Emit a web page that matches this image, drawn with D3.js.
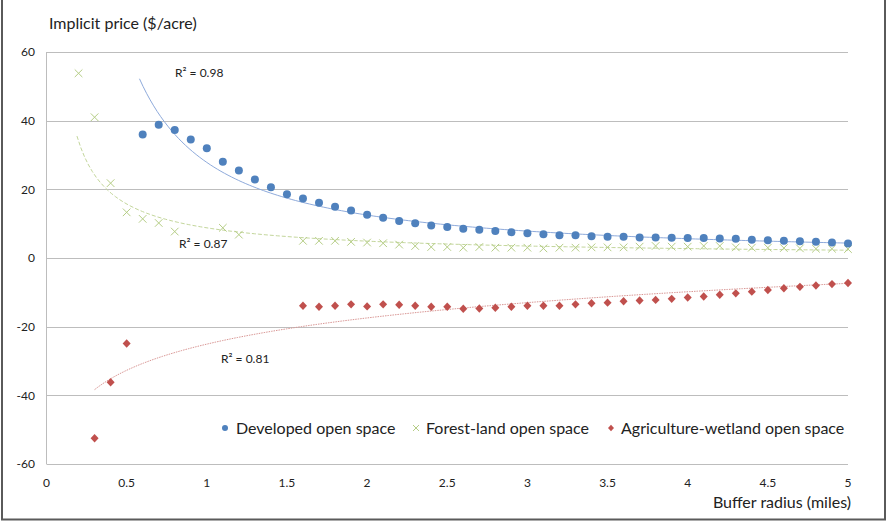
<!DOCTYPE html>
<html>
<head>
<meta charset="utf-8">
<script src="https://cdn.jsdelivr.net/npm/d3@7"></script>
<style>
  body { margin: 0; background: #fff; }
  svg text { font-family: Lato, "Open Sans", sans-serif; fill: #222; }
</style>
</head>
<body>
<div id="chart"></div>
<script>
// values
var devX = [0.6,0.7,0.8,0.9,1.0,1.1,1.2,1.3,1.4,1.5,1.6,1.7,1.8,1.9,2.0,2.1,2.2,2.3,2.4,2.5,2.6,2.7,2.8,2.9,3.0,3.1,3.2,3.3,3.4,3.5,3.6,3.7,3.8,3.9,4.0,4.1,4.2,4.3,4.4,4.5,4.6,4.7,4.8,4.9,5.0];
var devY = [36.0,38.8,37.3,34.5,32.0,28.0,25.5,22.9,20.6,18.6,17.3,16.1,14.9,13.8,12.6,11.7,10.8,10.1,9.5,9.0,8.5,8.2,7.9,7.5,7.2,6.9,6.6,6.6,6.3,6.2,6.2,6.0,6.0,5.9,5.8,5.8,5.7,5.6,5.3,5.2,5.0,4.9,4.7,4.5,4.2];

var forX = [0.2,0.3,0.4,0.5,0.6,0.7,0.8,1.1,1.2,1.6,1.7,1.8,1.9,2.0,2.1,2.2,2.3,2.4,2.5,2.6,2.7,2.8,2.9,3.0,3.1,3.2,3.3,3.4,3.5,3.6,3.7,3.8,3.9,4.0,4.1,4.2,4.3,4.4,4.5,4.6,4.7,4.8,4.9,5.0];
var forY = [53.8,41.0,21.8,13.3,11.4,10.2,7.7,8.8,6.8,5.0,5.0,5.0,4.7,4.5,4.3,3.9,3.5,3.2,3.2,3.0,3.2,3.0,3.0,3.0,2.8,3.0,3.0,3.1,3.1,3.1,3.3,3.5,3.3,3.3,3.5,3.5,3.1,3.0,3.0,2.9,2.8,2.7,2.7,2.6];

var agrX = [0.3,0.4,0.5,1.6,1.7,1.8,1.9,2.0,2.1,2.2,2.3,2.4,2.5,2.6,2.7,2.8,2.9,3.0,3.1,3.2,3.3,3.4,3.5,3.6,3.7,3.8,3.9,4.0,4.1,4.2,4.3,4.4,4.5,4.6,4.7,4.8,4.9,5.0];
var agrY = [-52.5,-36.2,-24.9,-13.9,-14.2,-13.9,-13.5,-14.1,-13.5,-13.6,-13.9,-14.2,-14.2,-14.8,-14.7,-14.5,-14.2,-13.9,-13.9,-13.9,-13.5,-13.2,-13.0,-12.6,-12.4,-12.2,-11.9,-11.5,-11.2,-10.7,-10.3,-9.8,-9.3,-8.8,-8.4,-8.0,-7.6,-7.3];

var xTicks = [0,0.5,1,1.5,2,2.5,3,3.5,4,4.5,5];
var yTicks = [-60,-40,-20,0,20,40,60];
var seriesNames = ["Developed open space","Forest-land open space","Agriculture-wetland open space"];
var r2Labels = ["R\u00b2 = 0.98","R\u00b2 = 0.87","R\u00b2 = 0.81"];

var width = 887, height = 522;
var blue = "#4f81bd", green = "#b5cd85", red = "#c0504d";

var svg = d3.select("#chart").append("svg")
    .attr("width", width)
    .attr("height", height);

var x = d3.scaleLinear().domain([0, 5]).range([46.5, 848]);
var y = d3.scaleLinear().domain([-60, 60]).range([464, 52]);

// gridlines
svg.append("g")
  .selectAll("line")
  .data(yTicks)
  .join("line")
    .attr("x1", x(0)).attr("x2", x(5))
    .attr("y1", d => Math.round(y(d)) + 0.5)
    .attr("y2", d => Math.round(y(d)) + 0.5)
    .attr("stroke", "#bdbdbd");

svg.append("line")
    .attr("x1", x(0)).attr("x2", x(0))
    .attr("y1", y(60)).attr("y2", y(-60))
    .attr("stroke", "#bdbdbd");

// tick labels
svg.append("g")
  .selectAll("text")
  .data(yTicks)
  .join("text")
    .attr("x", 35)
    .attr("y", d => y(d))
    .attr("dy", "0.35em")
    .attr("text-anchor", "end")
    .style("font-size", "12px")
    .text(d => d);

svg.append("g")
  .selectAll("text")
  .data(xTicks)
  .join("text")
    .attr("x", d => x(d))
    .attr("y", 487)
    .attr("text-anchor", "middle")
    .style("font-size", "12px")
    .text(d => d);

svg.append("text")
    .attr("x", 49).attr("y", 29)
    .style("font-size", "16px")
    .text("Implicit price ($/acre)");

svg.append("text")
    .attr("x", 851).attr("y", 508)
    .attr("text-anchor", "end")
    .style("font-size", "16px")
    .text("Buffer radius (miles)");

// trendlines fitted to the points
function fitPower(xs, ys) {
  var lx = xs.map(Math.log), ly = ys.map(Math.log);
  var mx = d3.mean(lx), my = d3.mean(ly);
  var b = d3.sum(lx, (v, i) => (v - mx) * (ly[i] - my)) / d3.sum(lx, v => (v - mx) * (v - mx));
  var a = Math.exp(my - b * mx);
  return v => a * Math.pow(v, b);
}
function fitLog(xs, ys) {
  var lx = xs.map(Math.log);
  var mx = d3.mean(lx), my = d3.mean(ys);
  var b = d3.sum(lx, (v, i) => (v - mx) * (ys[i] - my)) / d3.sum(lx, v => (v - mx) * (v - mx));
  var a = my - b * mx;
  return v => a + b * Math.log(v);
}

function trend(xs, f, start) {
  var ext = d3.extent(xs);
  if (start !== undefined) ext[0] = start;
  var pts = d3.range(0, 201).map(i => {
    var v = ext[0] + (ext[1] - ext[0]) * i / 200;
    return [v, f(v)];
  });
  return d3.line().x(d => x(d[0])).y(d => y(d[1]))(pts);
}

svg.append("path")
    .attr("d", trend(devX, fitPower(devX, devY), 0.58))
    .attr("fill", "none")
    .attr("stroke", "#8eaadb")
    .attr("stroke-width", 1);

svg.append("path")
    .attr("d", trend(forX, fitPower(forX, forY), 0.19))
    .attr("fill", "none")
    .attr("stroke", "#c3d69b")
    .attr("stroke-width", 1)
    .attr("stroke-dasharray", "4,2");

svg.append("path")
    .attr("d", trend(agrX, fitLog(agrX, agrY)))
    .attr("fill", "none")
    .attr("stroke", "#d99694")
    .attr("stroke-width", 1)
    .attr("stroke-dasharray", "1.5,1");

// points
var devData = devX.map((v, i) => ({x: v, y: devY[i]}));
var forData = forX.map((v, i) => ({x: v, y: forY[i]}));
var agrData = agrX.map((v, i) => ({x: v, y: agrY[i]}));

var diamond = "M0,-4.2L4,0L0,4.2L-4,0Z";
var cross = "M-3.8,-3.8L3.8,3.8M-3.8,3.8L3.8,-3.8";

svg.append("g")
  .selectAll("path")
  .data(forData)
  .join("path")
    .attr("transform", d => "translate(" + x(d.x) + "," + y(d.y) + ")")
    .attr("d", cross)
    .attr("fill", "none")
    .attr("stroke", green)
    .attr("stroke-width", 1);

svg.append("g")
  .selectAll("circle")
  .data(devData)
  .join("circle")
    .attr("cx", d => x(d.x))
    .attr("cy", d => y(d.y))
    .attr("r", 4)
    .attr("fill", blue);

svg.append("g")
  .selectAll("path")
  .data(agrData)
  .join("path")
    .attr("transform", d => "translate(" + x(d.x) + "," + y(d.y) + ")")
    .attr("d", diamond)
    .attr("fill", red);

// R-squared labels
var r2Pos = [[175, 73], [179, 244], [221, 359]];
svg.append("g")
  .selectAll("text")
  .data(r2Labels)
  .join("text")
    .attr("x", (d, i) => r2Pos[i][0])
    .attr("y", (d, i) => r2Pos[i][1])
    .attr("dy", "0.35em")
    .style("font-size", "12px")
    .text(d => d);

// legend
var lg = svg.append("g").attr("transform", "translate(0,428)");
lg.append("circle").attr("cx", 225).attr("cy", 0).attr("r", 3).attr("fill", blue);
lg.append("path").attr("transform", "translate(416,0)")
    .attr("d", "M-3,-3L3,3M-3,3L3,-3").attr("stroke", green).attr("fill", "none");
lg.append("path").attr("transform", "translate(611,0)")
    .attr("d", "M0,-3.2L3,0L0,3.2L-3,0Z").attr("fill", red);
var legX = [236, 426, 621];
lg.selectAll("text")
  .data(seriesNames)
  .join("text")
    .attr("x", (d, i) => legX[i])
    .attr("y", 0)
    .attr("dy", "0.35em")
    .style("font-size", "16px")
    .text(d => d);

// outer frame
svg.append("path")
    .attr("d", "M2,0V519.5H885V0")
    .attr("fill", "none")
    .attr("stroke", "#5a5a5a")
    .attr("stroke-width", 2);
</script>
</body>
</html>
